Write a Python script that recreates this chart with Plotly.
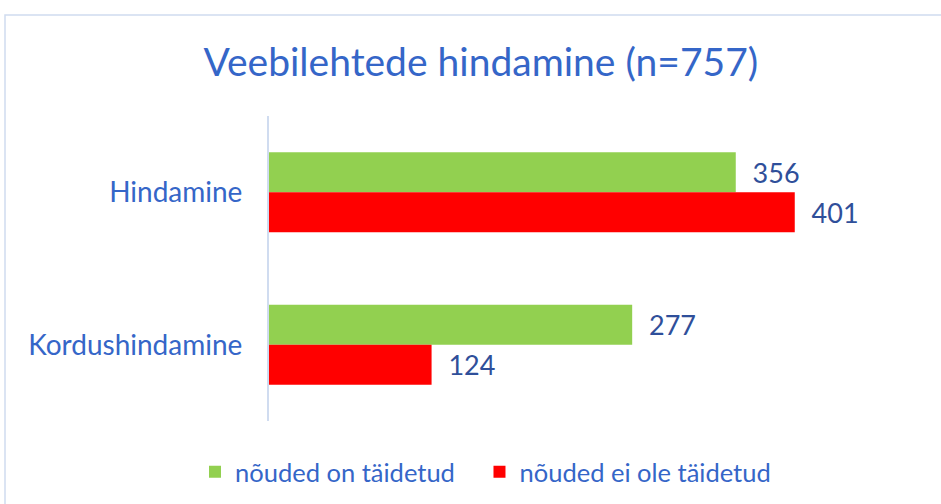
import plotly.graph_objects as go

categories = ["Hindamine", "Kordushindamine"]
met = [356, 277]
not_met = [401, 124]
series_names = ["nõuded on täidetud", "nõuded ei ole täidetud"]
title_text = "Veebilehtede hindamine (n=757)"

FONT = "Lato, 'Open Sans', sans-serif"
BLUE = "#3566C8"
LABEL = "#2F4F9A"
PAD = "\u00a0\u00a0\u00a0"

fig = go.Figure()
fig.add_trace(go.Bar(
    y=categories, x=met, name=series_names[0] + PAD, orientation="h",
    marker=dict(color="#92D050", line=dict(width=0)),
    texttemplate="\u00a0\u00a0%{x}", textposition="outside", cliponaxis=False,
    textfont=dict(family=FONT, size=27, color=LABEL),
))
fig.add_trace(go.Bar(
    y=categories, x=not_met, name=series_names[1], orientation="h",
    marker=dict(color="#FF0000", line=dict(width=0)),
    texttemplate="\u00a0\u00a0%{x}", textposition="outside", cliponaxis=False,
    textfont=dict(family=FONT, size=27, color=LABEL),
))

fig.update_layout(
    width=941, height=504,
    paper_bgcolor="white", plot_bgcolor="white",
    margin=dict(l=269, r=82, t=116, b=83, autoexpand=False),
    barmode="group", bargap=0.475, bargroupgap=0,
    title=dict(text=title_text, x=0.511, xanchor="center", y=0.877, yanchor="middle",
               font=dict(family=FONT, size=39, color=BLUE)),
    xaxis=dict(range=[0, 450], visible=False, showgrid=False, zeroline=False),
    yaxis=dict(autorange="reversed", showline=True, linecolor="#D0DCF0", linewidth=2,
               showgrid=False, ticks="", ticklabelstandoff=19,
               tickfont=dict(family=FONT, size=28, color=BLUE)),
    legend=dict(orientation="h", x=(195 - 269) / 590, xanchor="left", y=-0.168, yanchor="middle",
                font=dict(family=FONT, size=25.5, color=BLUE), itemwidth=30,
                traceorder="normal"),
    shapes=[dict(type="rect", xref="paper", yref="paper",
                 x0=(5 - 269) / 590, x1=1.3, y0=-0.5, y1=(421 - 15) / 305,
                 line=dict(color="#D0DCF0", width=1.5), fillcolor="rgba(0,0,0,0)",
                 layer="below")],
)

fig.write_html("out.html", config={"displayModeBar": False},
               post_script="document.body.style.margin='0';")
